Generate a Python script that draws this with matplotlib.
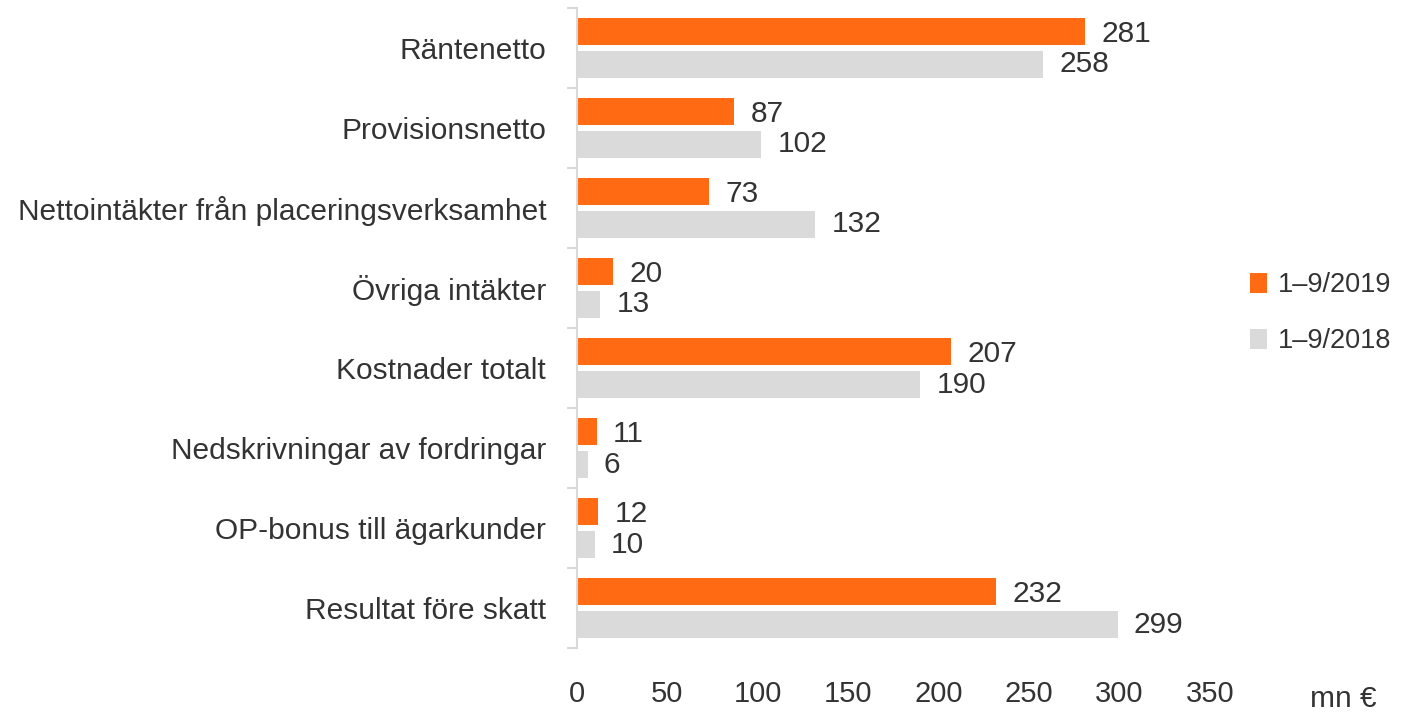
import matplotlib.pyplot as plt
import numpy as np
from matplotlib.patches import Patch

categories = ['Räntenetto', 'Provisionsnetto', 'Nettointäkter från placeringsverksamhet',
              'Övriga intäkter', 'Kostnader totalt', 'Nedskrivningar av fordringar',
              'OP-bonus till ägarkunder', 'Resultat före skatt']
values_2019 = [281, 87, 73, 20, 207, 11, 12, 232]
values_2018 = [258, 102, 132, 13, 190, 6, 10, 299]
series_names = ['1–9/2019', '1–9/2018']
xticks = [0, 50, 100, 150, 200, 250, 300, 350]

orange = '#FF6A13'
grey = '#DADADA'
textc = '#333333'

plt.rcParams['font.family'] = ['Liberation Sans', 'DejaVu Sans']
fs = 21.5

fig = plt.figure(figsize=(14.1, 7.17), dpi=100)
ax = fig.add_axes([0.409, 0.0962, 0.449, 0.893])

y = np.arange(len(categories))
h = 0.335
ax.barh(y - h / 2 - 0.04, values_2019, height=h, color=orange, zorder=2)
ax.barh(y + h / 2 + 0.04, values_2018, height=h, color=grey, zorder=2)

# värden bredvid staplarna
for i in range(len(categories)):
    ax.text(values_2019[i] + 9, y[i] - h / 2 - 0.01, str(values_2019[i]),
            va='center', ha='left', fontsize=fs, color=textc)
    ax.text(values_2018[i] + 9, y[i] + h / 2 + 0.04, str(values_2018[i]),
            va='center', ha='left', fontsize=fs, color=textc)

ax.set_xlim(0, 350)
ax.set_ylim(len(categories) - 0.5, -0.5)
ax.set_xticks(xticks)
ax.set_xticklabels([str(t) for t in xticks], fontsize=21, color=textc)
ax.tick_params(axis='x', length=0, pad=23)

ax.set_yticks(y)
ax.set_yticklabels(categories, fontsize=fs, color=textc)
ax.tick_params(axis='y', which='major', length=0, pad=22)
ax.set_yticks(np.arange(-0.5, len(categories)), minor=True)
ax.tick_params(axis='y', which='minor', length=7, width=1.5, color='#D9D9D9')

for s in ['top', 'right', 'bottom']:
    ax.spines[s].set_visible(False)
ax.spines['left'].set_color('#D9D9D9')
ax.spines['left'].set_linewidth(1.5)

legend_elements = [Patch(facecolor=orange, label=series_names[0]),
                   Patch(facecolor=grey, label=series_names[1])]
fig.legend(handles=legend_elements, loc='center left', bbox_to_anchor=(0.869, 0.563),
           frameon=False, fontsize=19.5, handlelength=0.65, handleheight=0.75,
           handletextpad=0.4, labelspacing=1.1, labelcolor=textc)

fig.text(0.953, 0.005, 'mn €', fontsize=fs, color=textc, ha='center', va='bottom')

fig.savefig('out.png', dpi=100)
